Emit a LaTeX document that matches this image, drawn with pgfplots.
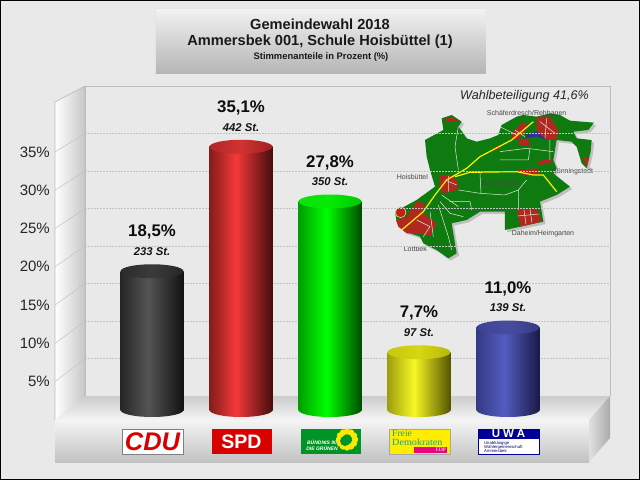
\documentclass[border=0pt]{standalone}
\usepackage{fontspec}
\setmainfont{Liberation Sans}
\newfontfamily\serifbold{Liberation Serif}
\usepackage{pgfplots}
\pgfplotsset{compat=1.18}
\usepackage{pgfplotstable}

\definecolor{bgcol}{HTML}{E9E9E9}
\definecolor{wallline}{HTML}{BDBDBD}
\definecolor{gridcol}{HTML}{C2C2C2}
\definecolor{mapgreen}{HTML}{0F7A10}
\definecolor{mapred}{HTML}{B02820}
\definecolor{fdpteal}{HTML}{1FA08A}

\newcommand\fs[1]{\fontsize{#1}{#1}\selectfont}

% cylinder shadings: body (b..) and top cap (t..)
% only 25bp to 75bp of a shading shows on a path
\pgfdeclarehorizontalshading{bcdu}{100bp}{rgb(0bp)=(.15,.15,.15); rgb(25bp)=(.15,.15,.15); rgb(47bp)=(.33,.33,.33); rgb(75bp)=(.07,.07,.07); rgb(100bp)=(.07,.07,.07)}
\pgfdeclarehorizontalshading{tcdu}{100bp}{rgb(0bp)=(.17,.17,.17); rgb(25bp)=(.17,.17,.17); rgb(50bp)=(.23,.23,.23); rgb(75bp)=(.15,.15,.15); rgb(100bp)=(.15,.15,.15)}
\pgfdeclarehorizontalshading{bspd}{100bp}{rgb(0bp)=(.52,.11,.11); rgb(25bp)=(.52,.11,.11); rgb(46bp)=(.96,.22,.22); rgb(75bp)=(.27,.05,.05); rgb(100bp)=(.27,.05,.05)}
\pgfdeclarehorizontalshading{tspd}{100bp}{rgb(0bp)=(.70,.15,.15); rgb(25bp)=(.70,.15,.15); rgb(50bp)=(.82,.20,.20); rgb(75bp)=(.62,.12,.12); rgb(100bp)=(.62,.12,.12)}
\pgfdeclarehorizontalshading{bgru}{100bp}{rgb(0bp)=(0,.62,0); rgb(25bp)=(0,.62,0); rgb(47bp)=(0,1,0); rgb(75bp)=(0,.30,0); rgb(100bp)=(0,.30,0)}
\pgfdeclarehorizontalshading{tgru}{100bp}{rgb(0bp)=(.05,.88,.05); rgb(25bp)=(.05,.88,.05); rgb(50bp)=(.02,.92,.02); rgb(75bp)=(0,.78,0); rgb(100bp)=(0,.78,0)}
\pgfdeclarehorizontalshading{bfdp}{100bp}{rgb(0bp)=(.62,.62,.05); rgb(25bp)=(.62,.62,.05); rgb(46bp)=(.97,.97,.15); rgb(75bp)=(.33,.33,0); rgb(100bp)=(.33,.33,0)}
\pgfdeclarehorizontalshading{tfdp}{100bp}{rgb(0bp)=(.78,.78,.05); rgb(25bp)=(.78,.78,.05); rgb(50bp)=(.84,.84,.08); rgb(75bp)=(.72,.72,.03); rgb(100bp)=(.72,.72,.03)}
\pgfdeclarehorizontalshading{buwa}{100bp}{rgb(0bp)=(.20,.23,.52); rgb(25bp)=(.20,.23,.52); rgb(47bp)=(.33,.36,.75); rgb(75bp)=(.10,.10,.28); rgb(100bp)=(.10,.10,.28)}
\pgfdeclarehorizontalshading{tuwa}{100bp}{rgb(0bp)=(.24,.26,.58); rgb(25bp)=(.24,.26,.58); rgb(50bp)=(.28,.30,.63); rgb(75bp)=(.21,.23,.52); rgb(100bp)=(.21,.23,.52)}

\newcommand\capmark[1]{%
  \pgfdeclareplotmark{#1}{%
    \pgfpathellipse{\pgfpointorigin}{\pgfqpoint{31.5pt}{0pt}}{\pgfqpoint{0pt}{7pt}}%
    \pgfshadepath{#1}{0}\pgfusepath{discard}}}
\capmark{bcdu}\capmark{tcdu}\capmark{bspd}\capmark{tspd}\capmark{bgru}\capmark{tgru}
\capmark{bfdp}\capmark{tfdp}\capmark{buwa}\capmark{tuwa}

\newcommand\cyl[3]{%
  \addplot[only marks,mark=b#1] coordinates {(#2,0)};
  \addplot[ybar,bar shift=0pt,bar width=63pt,draw=none,shade,shading=b#1] coordinates {(#2,#3)};
  \addplot[only marks,mark=t#1] coordinates {(#2,#3)};
}

\pgfplotstableread{
pos share votes
0 18.5 233
1 35.1 442
2 27.8 350
3 7.7 97
4 11.0 139
}\results

\begin{document}
\begin{tikzpicture}
\path[use as bounding box] (0,0) rectangle (640pt,480pt);
\fill[bgcol] (0,0) rectangle (640pt,480pt);

% pixel coordinates, origin top left
\begin{scope}[x=1pt,y=-1pt,yshift=480pt]
  % title box
  \shade[top color=black!5,bottom color=black!29] (155.5,8.5) rectangle (485.5,73.5);
  \draw[white!90!black,line width=.8pt] (155.5,73.5) -- (155.5,8.5) -- (485.5,8.5);
  \node[font=\fs{14.6}\bfseries,text=black!90] at (320,24) {Gemeindewahl 2018};
  \node[font=\fs{14.6}\bfseries,text=black!90] at (320,41.5) {Ammersbek 001, Schule Hoisbüttel (1)};
  \node[font=\fs{9.4}\bfseries,text=black!90] at (321,57.5) {Stimmenanteile in Prozent (\%)};
  % back wall outline
  \draw[wallline,line width=.8pt] (85,396) -- (85,86) -- (610,86) -- (610,396);
  % left wall
  \shade[left color=white,right color=black!22] (55,102) -- (85,86) -- (85,396) -- (55,420) -- cycle;
  \draw[wallline,line width=.7pt] (55,420) -- (55,102) -- (85,86) -- (85,396);
  % floor, front, right side
  \shade[top color=black!20,bottom color=black!4] (55,420) -- (85,396) -- (610,396) -- (589,420) -- cycle;
  \shade[top color=black!4,bottom color=black!24] (55,420) rectangle (589,462);
  \shade[left color=black!12,right color=black!33] (589,420) -- (610,396) -- (610,438) -- (589,462) -- cycle;
  \foreach \p in {5,10,...,35}
    \draw[gridcol,line width=.5pt] (85,396-7.5*\p) -- (55,420-7.66*\p);

  % map, coordinates of a 3x crop
  \begin{scope}[x=.3333pt,y=-.3333pt,xshift=380pt,yshift=-80pt]
    \def\outline{(185,115) -- (215,105) -- (245,125) -- (235,140) -- (260,175) -- (290,185) -- (330,175) -- (355,165) -- (365,135) -- (410,110) -- (430,105) -- (470,110) -- (510,100) -- (540,105) -- (570,122) -- (642,128) -- (625,150) -- (580,155) -- (590,175) -- (635,180) -- (632,215) -- (620,265) -- (605,250) -- (590,200) -- (575,185) -- (530,180) -- (520,240) -- (530,265) -- (520,280) -- (570,320) -- (530,345) -- (480,365) -- (490,425) -- (375,450) -- (375,395) -- (300,395) -- (260,420) -- (215,430) -- (230,520) -- (205,535) -- (170,510) -- (130,490) -- (120,470) -- (75,455) -- (50,425) -- (45,395) -- (110,360) -- (165,320) -- (150,270) -- (140,230) -- (135,180) -- (190,150) -- cycle}
    \fill[black!25,shift={(7,7)}] \outline;
    \fill[mapgreen] \outline;
    % water
    \fill[blue!45!black!80] (435,165) -- (470,155) -- (510,170) -- (500,180) -- (470,170) -- (440,175) -- cycle;
    % built-up areas
    \fill[mapred] (470,110) -- (510,110) -- (535,150) -- (530,178) -- (500,180) -- (470,150) -- cycle;
    \fill[mapred] (395,160) -- (430,125) -- (445,140) -- (420,175) -- (395,180) -- cycle;
    \fill[mapred] (415,180) -- (445,175) -- (450,195) -- (420,197) -- cycle;
    \fill[mapred] (180,285) -- (215,285) -- (235,310) -- (230,330) -- (190,340) -- (178,315) -- cycle;
    \fill[mapred] (48,420) -- (80,410) -- (110,365) -- (135,370) -- (130,400) -- (170,430) -- (150,470) -- (120,460) -- (80,460) -- (55,440) -- cycle;
    \fill[mapred] (412,390) -- (470,385) -- (485,425) -- (420,440) -- cycle;
    \fill[mapred] (470,245) -- (520,235) -- (510,250) -- (480,255) -- cycle;
    \fill[mapred] (410,270) -- (470,265) -- (480,285) -- (430,285) -- cycle;
    \fill[mapred] (190,118) -- (215,112) -- (240,125) -- (200,125) -- cycle;
    \fill[mapred] (340,205) -- (355,195) -- (358,205) -- (345,212) -- cycle;
    \fill[mapred] (608,232) -- (628,232) -- (620,262) -- cycle;
    \draw[mapred,fill=mapred!80!red,draw=yellow!60!white,line width=.5pt] (62,397) circle (16);
    % paths
    \draw[white!85!mapgreen,line width=.5pt] (235,140) -- (225,200) -- (235,270) (300,280) -- (303,340) (235,330) -- (300,340) -- (375,345) -- (415,330) -- (440,300)
      (360,140) -- (410,165) (360,215) -- (440,205) -- (520,215) (450,205) -- (445,240) -- (360,240) (415,390) -- (415,330) (510,180) -- (510,240)
      (180,365) -- (210,400) -- (250,410) (210,365) -- (270,365) -- (275,390) (175,375) -- (205,470) -- (215,510) (150,395) -- (160,470)
      (110,420) -- (150,440) -- (130,470) (185,345) -- (235,380)
      (432,390) -- (438,432) (450,388) -- (456,428) (413,408) -- (478,402)
      (480,125) -- (525,160) (500,115) -- (495,175) (195,300) -- (230,315) (205,288) -- (205,335)
      (405,150) -- (435,170);
    \draw[yellow,line width=1.2pt] (65,450) -- (130,395) -- (165,345) -- (200,300) -- (260,265) -- (300,230) -- (395,180) -- (460,125);
    \draw[yellow,line width=1.2pt] (225,290) -- (270,277) -- (410,275) -- (460,285) -- (490,285) -- (530,335);
    \begin{scope}[every node/.style={font=\fs{7},text=black!72,inner sep=0pt}]
      \node at (440,102) {Schäferdresch/Rehhagen};
      \node at (97,291) {Hoisbüttel};
      \node at (578,275) {Bünningstedt};
      \node at (362,309) {Ammersbek};
      \node at (489,461) {Daheim/Heimgarten};
      \node at (106,506) {Lottbek};
    \end{scope}
  \end{scope}
  \node[font=\fs{12.6}\itshape,text=black!85] at (524.5,96) {Wahlbeteiligung 41,6\%};

  % party logos
  \fill[white] (122,429) rectangle (183,454);
  \draw[black!50,line width=.5pt] (122,429) rectangle (183,454);
  \node[font=\fs{25.5}\bfseries\itshape,text=red!85!black,inner sep=0pt] at (152.5,441.5) {CDU};
  \fill[red!85!black] (211.5,429) rectangle (272,454);
  \node[font=\fs{19.5}\bfseries,text=white,inner sep=0pt] at (241.5,441.5) {SPD};
  \fill[green!50!black!85!cyan] (300.5,429) rectangle (361,454);
  \foreach \a in {0,30,...,330}
    \fill[yellow!90!orange] (347,439.5) ++(\a:8) ellipse (3.2 and 3.2);
  \fill[green!50!black!85!cyan] (345,441) circle (5);
  \node[font=\fs{5}\bfseries\itshape,text=white,inner sep=0pt,align=center] at (322,445.5) {BÜNDNIS 90\\[1.5pt]DIE GRÜNEN};
  \fill[yellow!95!orange] (389,429) rectangle (450,454);
  \draw[black!35,line width=.5pt] (389,429) rectangle (450,454);
  \node[font=\fs{9.6}\serifbold,text=fdpteal,inner sep=0pt,anchor=west] at (392,433) {Freie};
  \node[font=\fs{9.6}\serifbold,text=fdpteal,inner sep=0pt,anchor=west,xscale=1.06] at (392,442) {Demokraten};
  \fill[magenta!90!red] (414,447) rectangle (447,453);
  \node[font=\fs{5.5}\serifbold,text=white,inner sep=0pt,anchor=east] at (446,450) {FDP};
  \fill[white] (478,429) rectangle (539,454);
  \draw[blue!60!black,line width=1pt] (478,429) rectangle (539,454);
  \fill[blue!60!black] (478,429) rectangle (539,439);
  \node[font=\fs{11.5}\bfseries,text=white,inner sep=0pt] at (508.5,434) {U\hspace{3pt}W\hspace{3pt}A};
  \node[font=\fs{4.2},text=blue!40!black,inner sep=0pt,align=left,anchor=west] at (484,447) {Unabhängige\\[.1pt]Wählergemeinschaft\\[.1pt]Ammersbek};
  % frame
  \draw[black,line width=1.5pt] (.5,.7) rectangle (639.5,479.3);
\end{scope}

% grid on the back wall
\begin{axis}[
    at={(85pt,84pt)},anchor=south west,scale only axis,
    width=525pt,height=307.5pt,
    xmin=0,xmax=1,ymin=0,ymax=41,
    axis line style={draw=none},
    xtick=\empty,
    ytick={5,10,...,35},yticklabels={},
    major tick length=0pt,
    ymajorgrids,
    grid style={gridcol,line width=.5pt,dash pattern=on 1.5pt off 1.5pt}]
\end{axis}

% percent scale beside the left wall
\begin{axis}[
    at={(55pt,60pt)},anchor=south west,scale only axis,
    width=30pt,height=314.06pt,
    xmin=0,xmax=1,ymin=0,ymax=41,
    axis line style={draw=none},
    xtick=\empty,
    ytick={5,10,...,35},
    major tick length=0pt,
    /pgf/number format/assume math mode=true,
    yticklabel={\pgfmathprintnumber{\tick}\%},
    yticklabel style={font=\fs{15},text=black!85,inner sep=0pt,anchor=east,xshift=-5pt}]
\end{axis}

% cylinders: one unit of y is one percent, full canvas axis
\begin{axis}[
    at={(0,0)},anchor=south west,scale only axis,
    width=640pt,height=480pt,
    xmin=-1.7079,xmax=5.4831,ymin=-9.3333,ymax=54.6667,
    hide axis,clip=false,
    /pgf/number format/assume math mode=true]
  \cyl{cdu}{0}{18.5}
  \cyl{spd}{1}{35.1}
  \cyl{gru}{2}{27.8}
  \cyl{fdp}{3}{7.7}
  \cyl{uwa}{4}{11.0}
  \addplot[draw=none,mark=none,point meta=y,
    nodes near coords={\pgfmathprintnumber[fixed,fixed zerofill,precision=1,use comma]{\pgfplotspointmeta}\%},
    nodes near coords style={font=\fs{16.8}\bfseries,text=black!95,anchor=center,inner sep=0pt,yshift=39pt}]
    table[x=pos,y=share] {\results};
  \addplot[draw=none,mark=none,point meta=\thisrow{votes},
    nodes near coords={\pgfmathprintnumber[fixed,precision=0]{\pgfplotspointmeta} St.},
    nodes near coords style={font=\fs{11.3}\bfseries\itshape,text=black!92,anchor=center,inner sep=0pt,yshift=19.5pt}]
    table[x=pos,y=share] {\results};
\end{axis}
\end{tikzpicture}
\end{document}
